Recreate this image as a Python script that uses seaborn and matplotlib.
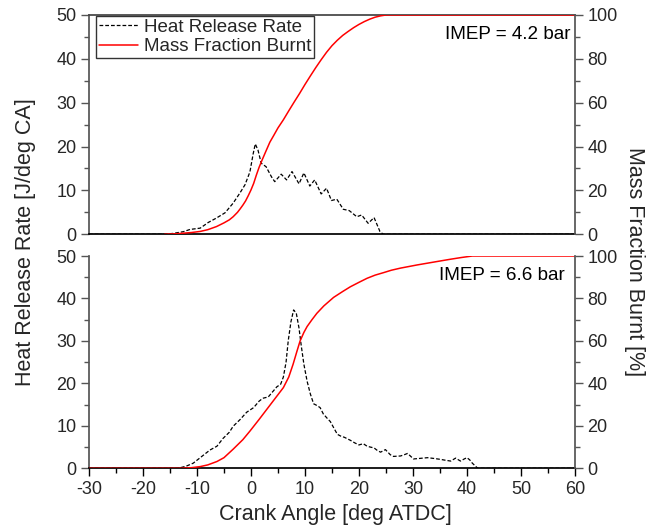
import seaborn as sns
import matplotlib.pyplot as plt
from matplotlib.ticker import MultipleLocator

sns.set_theme(style="ticks")
plt.rcParams["font.family"] = ["Liberation Sans", "DejaVu Sans"]
plt.rcParams["axes.unicode_minus"] = False

# IMEP = 4.2 bar
top_hrr_ca = [-30, -16.2, -14.4, -12.5, -11.3, -9.4, -7.9, -6.4, -4.8, -3.3, -2.0, -1.1,
              -0.2, 0.4, 0.8, 1.3, 1.9, 2.8, 3.8, 4.4, 5.6, 6.6, 7.6, 8.9, 9.8, 10.9,
              11.8, 13.0, 14.0, 14.9, 15.9, 17.1, 18.2, 19.6, 20.5, 21.7, 22.8, 23.9,
              24.5, 60]
top_hrr = [0, 0, 0.2, 0.6, 1.1, 1.4, 2.7, 3.7, 4.9, 7.1, 9.5, 11.3,
           14.2, 18.3, 20.6, 19.2, 16.2, 15.4, 13.1, 12.0, 13.7, 12.4, 14.3, 11.5, 14.0, 11.0,
           12.4, 9.2, 10.5, 7.7, 8.0, 5.7, 5.4, 4.0, 4.4, 2.5, 3.8, 0.6,
           0, 0]
top_mfb_ca = [-16, -14, -12.5, -11, -9.4, -8, -6.4, -5, -4, -3.3, -2.5, -2, -1.5, -1,
              -0.5, 0, 0.5, 1, 1.5, 2, 2.7, 3.5, 4.2, 5, 6, 7, 8, 9, 10, 11, 12, 13,
              14, 15, 16, 17, 18, 19, 20, 21, 22, 23, 24, 25, 60]
top_mfb = [0, 0.2, 0.5, 0.8, 1.3, 2.1, 3.5, 5.2, 6.6, 8.0, 10.0, 11.6, 13.3, 15.2,
           17.6, 20.2, 23.2, 27.0, 30.5, 33.5, 37.5, 42.0, 45.0, 48.5, 52.2, 56.3, 60.3,
           64.2, 68.3, 72.2, 76.0, 79.6, 83.0, 86.0, 88.5, 90.7, 92.5, 94.2, 95.7,
           97.0, 98.1, 99.0, 99.6, 100, 100]

# IMEP = 6.6 bar
bot_hrr_ca = [-30, -13.5, -12, -10.7, -9.4, -7.6, -6.3, -5.2, -4, -3.3, -2, -0.8, 0.5,
              1.5, 2.2, 3.2, 4, 4.8, 5.5, 6, 6.5, 6.9, 7.4, 7.9, 8.4, 8.9, 9.3, 9.8,
              10.4, 11, 11.6, 12.2, 12.8, 13.4, 14.1, 14.7, 15.3, 16, 16.6, 17.3, 18.4,
              19.2, 20, 20.8, 21.5, 22.1, 22.8, 23.4, 24, 24.9, 25.8, 26.4, 27.7, 28.4,
              29, 29.6, 30.1, 31, 32.7, 34, 35.1, 36, 37, 37.9, 38.8, 39.5, 40, 40.5,
              41, 42, 60]
bot_hrr = [0, 0, 0.5, 1.2, 2.5, 4.3, 5.2, 7.0, 8.5, 9.9, 11.5, 13.2, 14.3,
           15.8, 16.5, 16.8, 18.0, 19.2, 19.8, 21.5, 25.0, 30.0, 34.5, 37.3, 36.5, 33.0, 29.0, 24.5,
           20.5, 17.5, 15.2, 14.8, 14.3, 12.8, 11.8, 11.0, 9.6, 8.0, 7.6, 7.3, 6.6,
           6.0, 5.5, 5.8, 5.2, 5.0, 4.8, 4.2, 3.8, 4.4, 3.2, 2.8, 2.9, 3.2,
           3.5, 2.8, 2.2, 2.3, 2.5, 2.3, 2.1, 1.9, 1.7, 2.4, 1.7, 2.2, 2.5, 2.0,
           1.2, 0, 0]
bot_mfb_ca = [-30, -13, -11, -9.4, -8, -6.3, -5, -3.3, -1.5, -0.2, 1.5, 3, 4.5, 6, 7,
              7.8, 8.5, 9.1, 9.8, 10.4, 11.3, 12.2, 13.5, 15.3, 17, 18.4, 20, 21.5, 23,
              24.6, 26, 27.7, 30.8, 34, 37, 39, 41, 60]
bot_mfb = [0, 0, 0.3, 0.8, 1.6, 3.2, 5.0, 9.0, 13.5, 17.5, 23.0, 28.0, 33.0, 38.0, 43.0,
           49.0, 55.0, 60.0, 64.0, 66.8, 70.0, 73.0, 76.5, 80.5, 83.3, 85.5, 87.6, 89.5, 91.0,
           92.2, 93.3, 94.3, 95.8, 97.2, 98.5, 99.3, 100, 100]

imep_labels = ["IMEP = 4.2 bar", "IMEP = 6.6 bar"]

fig = plt.figure(figsize=(6.62, 5.26), dpi=100)
ax_top = fig.add_axes([0.1344, 0.5546, 0.7341, 0.4169])
ax_bot = fig.add_axes([0.1344, 0.1097, 0.7341, 0.4036])

tick_col = "#555555"


def draw_panel(ax, ca_h, hrr, ca_m, mfb, imep, text_pos, is_top):
    ax2 = ax.twinx()
    sns.lineplot(x=ca_h, y=hrr, ax=ax, color="black", lw=0.9,
                 linestyle=(0, (3, 1.6)), label="Heat Release Rate", legend=False)
    sns.lineplot(x=ca_m, y=mfb, ax=ax2, color="red", lw=1.1,
                 label="Mass Fraction Burnt", legend=False)

    ax.set_xlim(-30, 60)
    ax.set_ylim(0, 50)
    ax2.set_ylim(0, 100)

    ax.xaxis.set_major_locator(MultipleLocator(10))
    ax.xaxis.set_minor_locator(MultipleLocator(5))
    ax.yaxis.set_major_locator(MultipleLocator(10))
    ax.yaxis.set_minor_locator(MultipleLocator(5))
    ax2.yaxis.set_major_locator(MultipleLocator(20))
    ax2.yaxis.set_minor_locator(MultipleLocator(10))

    for a in (ax, ax2):
        a.tick_params(which="major", direction="out", length=6, width=1,
                      color=tick_col, labelsize=13, pad=3)
        a.tick_params(which="minor", direction="out", length=3.5, width=1,
                      color=tick_col)
        a.set_xlabel("")
        a.set_ylabel("")

    ax.tick_params(axis="x", which="both", color="black")
    if is_top:
        ax.tick_params(axis="x", which="both", bottom=False, labelbottom=False)

    ax.spines["left"].set_color(tick_col)
    ax.spines["right"].set_visible(False)
    ax.spines["bottom"].set_color("black")
    ax.spines["top"].set_visible(is_top)
    ax.spines["top"].set_color("#444444")
    for s in ("left", "top", "bottom"):
        ax2.spines[s].set_visible(False)
    ax2.spines["right"].set_color(tick_col)

    ax.text(text_pos[0], text_pos[1], imep, transform=ax.transAxes,
            ha="right", va="center", fontsize=13.6, color="black")
    return ax2


ax2_top = draw_panel(ax_top, top_hrr_ca, top_hrr, top_mfb_ca, top_mfb,
                     imep_labels[0], (0.99, 0.909), True)
ax2_bot = draw_panel(ax_bot, bot_hrr_ca, bot_hrr, bot_mfb_ca, bot_mfb,
                     imep_labels[1], (0.979, 0.906), False)

# legend only in the upper panel
h1, l1 = ax_top.get_legend_handles_labels()
h2, l2 = ax2_top.get_legend_handles_labels()
leg = ax2_top.legend(h1 + h2, l1 + l2, loc="upper left",
                     bbox_to_anchor=(0.0144, 0.996), borderaxespad=0,
                     frameon=True, fancybox=False, edgecolor="#333333",
                     framealpha=1, fontsize=13.5, handlelength=2.1,
                     handletextpad=0.3, borderpad=0.15, labelspacing=0.12)
leg.get_frame().set_linewidth(1.0)

fig.text(0.506, 0.021, "Crank Angle [deg ATDC]", ha="center", va="center",
         fontsize=15.5)
fig.text(0.038, 0.54, "Heat Release Rate [J/deg CA]", ha="center", va="center",
         rotation=90, fontsize=15.5)
fig.text(0.959, 0.502, "Mass Fraction Burnt [%]", ha="center", va="center",
         rotation=270, fontsize=15.5)

fig.savefig("out.png", dpi=100)
